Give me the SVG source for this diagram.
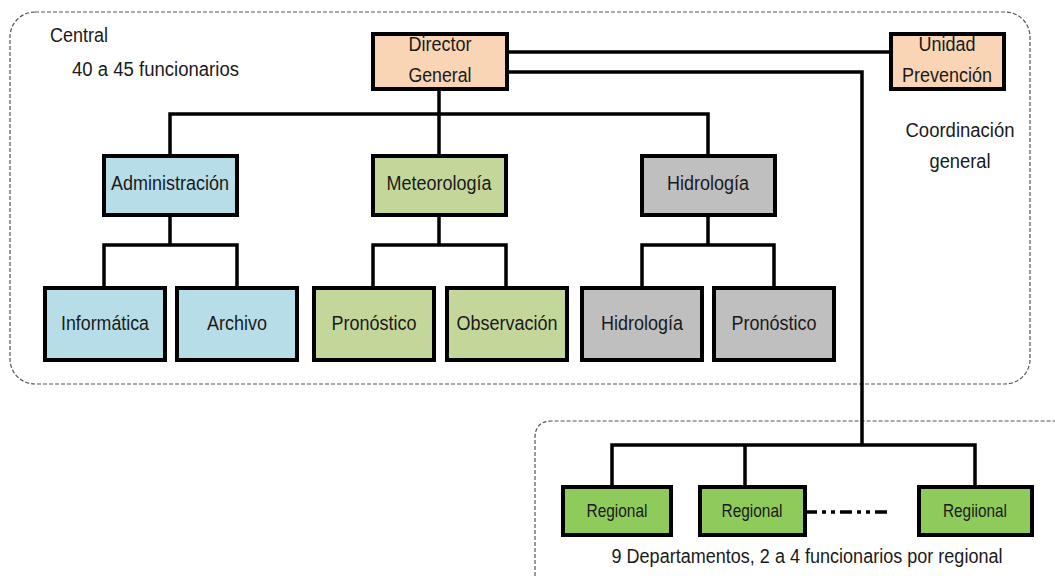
<svg xmlns="http://www.w3.org/2000/svg" width="1055" height="576" viewBox="0 0 1055 576">
<style>
text{font-family:"Liberation Sans",Arial,sans-serif;fill:#1a1a1a}
.t{font-size:20px;text-anchor:middle}
.tl{font-size:20px}
.tr{font-size:18.5px;text-anchor:middle}
.box{stroke:#000;stroke-width:4}
.peach{fill:#F9D5B5}
.blue{fill:#B7DDE8}
.green{fill:#C4D79B}
.gray{fill:#BFBFBF}
.reg{fill:#8FCB5A}
.dash{fill:none;stroke:#555;stroke-width:1.2;stroke-dasharray:4 2}
.ln{fill:none;stroke:#000;stroke-width:3.5}
</style>
<g id="areas">
<rect class="dash" x="10" y="12" width="1020" height="372" rx="25"/>
<path class="dash" d="M535,576 V438 Q535,421 552,421 H1055"/>
<text class="tl" x="50" y="42" textLength="58" lengthAdjust="spacingAndGlyphs">Central</text>
<text class="tl" x="72" y="76" textLength="167" lengthAdjust="spacingAndGlyphs">40 a 45 funcionarios</text>
<text class="t" x="960" y="137" textLength="109" lengthAdjust="spacingAndGlyphs">Coordinación</text>
<text class="t" x="960" y="168" textLength="61" lengthAdjust="spacingAndGlyphs">general</text>
<text class="t" x="807" y="563" textLength="391" lengthAdjust="spacingAndGlyphs">9 Departamentos, 2 a 4 funcionarios por regional</text>
</g>
<g id="connectors">
<path class="ln" d="M507,52 H891"/>
<path class="ln" d="M507,72 H862 V445"/>
<path class="ln" d="M439,89 V156"/>
<path class="ln" d="M170,156 V114 H708 V156"/>
<path class="ln" d="M170,215 V245 M104,288 V245 H237 V288"/>
<path class="ln" d="M439,215 V245 M373,288 V245 H506 V288"/>
<path class="ln" d="M708,215 V245 M642,288 V245 H774 V288"/>
<path class="ln" d="M612,487 V445 H975 V487 M745,445 V487"/>
<path class="ln" d="M805,512 H890" stroke-dasharray="12 5 4 5 4 5"/>
</g>
<g id="director">
<rect class="peach" x="373" y="34" width="134" height="55"/>
<text class="t" x="440" y="51" textLength="63" lengthAdjust="spacingAndGlyphs">Director</text>
<text class="t" x="440" y="82" textLength="63" lengthAdjust="spacingAndGlyphs">General</text>
<rect class="box" x="373" y="34" width="134" height="55" fill="none"/>
</g>
<g id="unidad">
<rect class="peach" x="891" y="34" width="113" height="55"/>
<text class="t" x="947" y="51" textLength="57" lengthAdjust="spacingAndGlyphs">Unidad</text>
<text class="t" x="947" y="82" textLength="90" lengthAdjust="spacingAndGlyphs">Prevención</text>
<rect class="box" x="891" y="34" width="113" height="55" fill="none"/>
</g>
<g id="administracion">
<rect class="box blue" x="104" y="156" width="133" height="59"/>
<text class="t" x="170" y="190" textLength="118" lengthAdjust="spacingAndGlyphs">Administración</text>
</g>
<g id="meteorologia">
<rect class="box green" x="373" y="156" width="133" height="59"/>
<text class="t" x="439" y="190" textLength="105" lengthAdjust="spacingAndGlyphs">Meteorología</text>
</g>
<g id="hidrologia">
<rect class="box gray" x="642" y="156" width="133" height="59"/>
<text class="t" x="708" y="190" textLength="82" lengthAdjust="spacingAndGlyphs">Hidrología</text>
</g>
<g id="informatica">
<rect class="box blue" x="45" y="288" width="120" height="72"/>
<text class="t" x="105" y="330" textLength="88" lengthAdjust="spacingAndGlyphs">Informática</text>
</g>
<g id="archivo">
<rect class="box blue" x="177" y="288" width="120" height="72"/>
<text class="t" x="237" y="330" textLength="60" lengthAdjust="spacingAndGlyphs">Archivo</text>
</g>
<g id="pronostico1">
<rect class="box green" x="314" y="288" width="120" height="72"/>
<text class="t" x="374" y="330" textLength="85" lengthAdjust="spacingAndGlyphs">Pronóstico</text>
</g>
<g id="observacion">
<rect class="box green" x="447" y="288" width="120" height="72"/>
<text class="t" x="507" y="330" textLength="101" lengthAdjust="spacingAndGlyphs">Observación</text>
</g>
<g id="hidrologia2">
<rect class="box gray" x="582" y="288" width="120" height="72"/>
<text class="t" x="642" y="330" textLength="82" lengthAdjust="spacingAndGlyphs">Hidrología</text>
</g>
<g id="pronostico2">
<rect class="box gray" x="714" y="288" width="120" height="72"/>
<text class="t" x="774" y="330" textLength="85" lengthAdjust="spacingAndGlyphs">Pronóstico</text>
</g>
<g id="regional1">
<rect class="box reg" x="563" y="487" width="108" height="48"/>
<text class="tr" x="617" y="517" textLength="61" lengthAdjust="spacingAndGlyphs">Regional</text>
</g>
<g id="regional2">
<rect class="box reg" x="700" y="487" width="105" height="48"/>
<text class="tr" x="752" y="517" textLength="61" lengthAdjust="spacingAndGlyphs">Regional</text>
</g>
<g id="regional3">
<rect class="box reg" x="919" y="487" width="113" height="48"/>
<text class="tr" x="975" y="517" textLength="64" lengthAdjust="spacingAndGlyphs">Regiional</text>
</g>
</svg>
